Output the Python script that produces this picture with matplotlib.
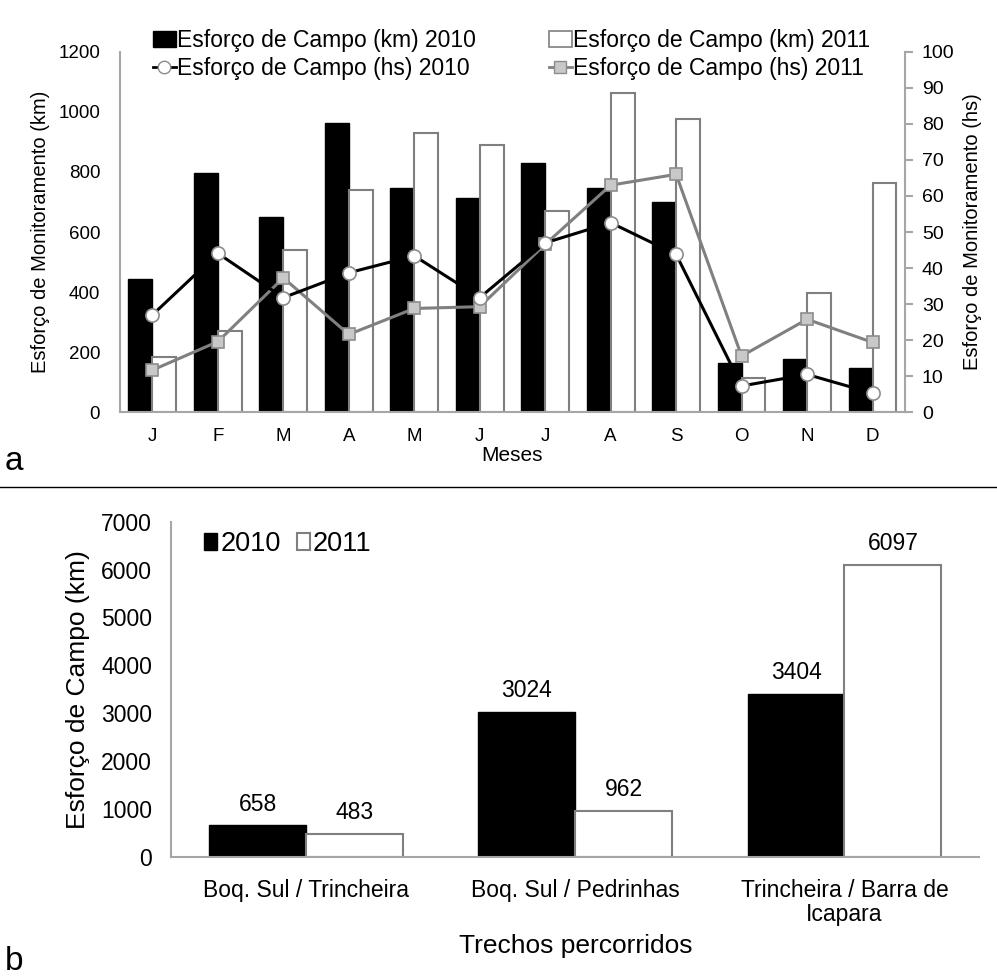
import numpy as np
import matplotlib.pyplot as plt
from matplotlib.lines import Line2D

plt.rcParams['font.family'] = ['Liberation Sans', 'DejaVu Sans']

# monthly effort (top panel)
meses = ["J", "F", "M", "A", "M", "J", "J", "A", "S", "O", "N", "D"]
km_2010 = [443, 795, 651, 962, 745, 712, 829, 745, 699, 163, 177, 148]
km_2011 = [185, 270, 540, 739, 930, 889, 670, 1062, 976, 113, 398, 762]
hs_2010 = [27.0, 44.1, 31.8, 38.7, 43.4, 31.8, 47.0, 52.6, 43.8, 7.3, 10.5, 5.3]
hs_2011 = [11.7, 19.6, 37.3, 21.6, 28.8, 29.3, 46.6, 63.0, 66.0, 15.6, 25.8, 19.4]

# effort per stretch (bottom panel)
trechos = ["Boq. Sul / Trincheira", "Boq. Sul / Pedrinhas",
           "Trincheira / Barra de\nIcapara"]
trecho_2010 = [658, 3024, 3404]
trecho_2011 = [483, 962, 6097]

spine_c = "#a6a6a6"
fig = plt.figure(figsize=(9.97, 9.77), dpi=100)

# ---- panel a ----
ax = fig.add_axes([0.120, 0.578, 0.788, 0.369])
x = np.arange(len(meses))
w = 0.365
ax.bar(x - w / 2, km_2010, w, color="black", edgecolor="black", linewidth=1,
       zorder=2)
ax.bar(x + w / 2, km_2011, w, color="white", edgecolor="#7f7f7f", linewidth=1.5,
       zorder=2)
ax.set_ylim(0, 1200)
ax.set_xlim(-0.5, len(meses) - 0.5)
ax.set_yticks(np.arange(0, 1201, 200))
ax.set_xticks(x)
ax.set_xticklabels(meses)
ax.tick_params(axis="both", length=0, labelsize=13.5)
ax.tick_params(axis="x", pad=11)
ax.tick_params(axis="y", pad=14)
ax.set_ylabel("Esforço de Monitoramento (km)", fontsize=14.5, labelpad=6)
ax.set_xlabel("Meses", fontsize=15, labelpad=1)
for s in ["top", "right"]:
    ax.spines[s].set_visible(False)
for s in ["left", "bottom"]:
    ax.spines[s].set_color(spine_c)
    ax.spines[s].set_linewidth(1.5)

ax2 = ax.twinx()
ax2.plot(x, hs_2010, color="black", lw=2.2, marker="o", ms=9.5,
         mfc="white", mec="#8c8c8c", mew=1.2, zorder=4)
ax2.plot(x, hs_2011, color="#808080", lw=2.2, marker="s", ms=8.5,
         mfc="#c8c8c8", mec="#8c8c8c", mew=1.2, zorder=3)
ax2.set_ylim(0, 100)
ax2.set_yticks(np.arange(0, 101, 10))
ax2.tick_params(axis="y", length=6, color=spine_c, width=1.5, labelsize=14,
                pad=6)
ax2.set_ylabel("Esforço de Monitoramento (hs)", fontsize=14.5, labelpad=6)
for s in ["top", "left", "bottom"]:
    ax2.spines[s].set_visible(False)
ax2.spines["right"].set_color(spine_c)
ax2.spines["right"].set_linewidth(1.5)

handles = [
    plt.Rectangle((0, 0), 1, 1, fc="black", ec="black"),
    Line2D([], [], color="black", lw=2, marker="o", ms=9, mfc="white",
           mec="#8c8c8c"),
    plt.Rectangle((0, 0), 1, 1, fc="white", ec="#7f7f7f", lw=1.2),
    Line2D([], [], color="#808080", lw=2, marker="s", ms=8, mfc="#c8c8c8",
           mec="#8c8c8c"),
]
labels = ["Esforço de Campo (km) 2010", "Esforço de Campo (hs) 2010",
          "Esforço de Campo (km) 2011", "Esforço de Campo (hs) 2011"]
fig.legend(handles, labels, ncol=2, loc="center", bbox_to_anchor=(0.513, 0.944),
           frameon=False, fontsize=16.5, handlelength=1.0, handletextpad=0.05,
           columnspacing=3.2, labelspacing=0.2, handleheight=0.7)

fig.text(0.005, 0.512, "a", fontsize=24, va="bottom")
fig.add_artist(Line2D([0, 1], [0.5015, 0.5015], color="black", lw=1))

# ---- panel b ----
bx = fig.add_axes([0.172, 0.123, 0.81, 0.343])
xb = np.arange(len(trechos))
wb = 0.36
b1 = bx.bar(xb - wb / 2, trecho_2010, wb, color="black", edgecolor="black",
            label="2010")
b2 = bx.bar(xb + wb / 2, trecho_2011, wb, color="white", edgecolor="#7f7f7f",
            linewidth=1.5, label="2011")
for bars in (b1, b2):
    for r in bars:
        bx.annotate(f"{r.get_height():.0f}",
                    (r.get_x() + r.get_width() / 2, r.get_height()),
                    xytext=(0, 7), textcoords="offset points",
                    ha="center", va="bottom", fontsize=16.5)
bx.set_xlim(-0.5, len(trechos) - 0.5)
bx.set_ylim(0, 7000)
bx.set_yticks(np.arange(0, 7001, 1000))
bx.set_xticks(xb)
bx.set_xticklabels(trechos, linespacing=1.05)
bx.tick_params(axis="both", length=0, labelsize=16.5)
bx.tick_params(axis="x", pad=16)
bx.tick_params(axis="y", pad=14)
bx.set_ylabel("Esforço de Campo (km)", fontsize=19, labelpad=8)
bx.set_xlabel("Trechos percorridos", fontsize=19, labelpad=6)
for s in ["top", "right"]:
    bx.spines[s].set_visible(False)
for s in ["left", "bottom"]:
    bx.spines[s].set_color(spine_c)
    bx.spines[s].set_linewidth(1.5)
bx.legend(loc="upper left", bbox_to_anchor=(0.01, 1.045), frameon=False,
          fontsize=19.5, ncol=2, handlelength=0.5, handleheight=0.6,
          handletextpad=0.1, columnspacing=0.6)

fig.text(0.005, 0.0, "b", fontsize=24, va="bottom")

fig.savefig("out.png", dpi=100)
